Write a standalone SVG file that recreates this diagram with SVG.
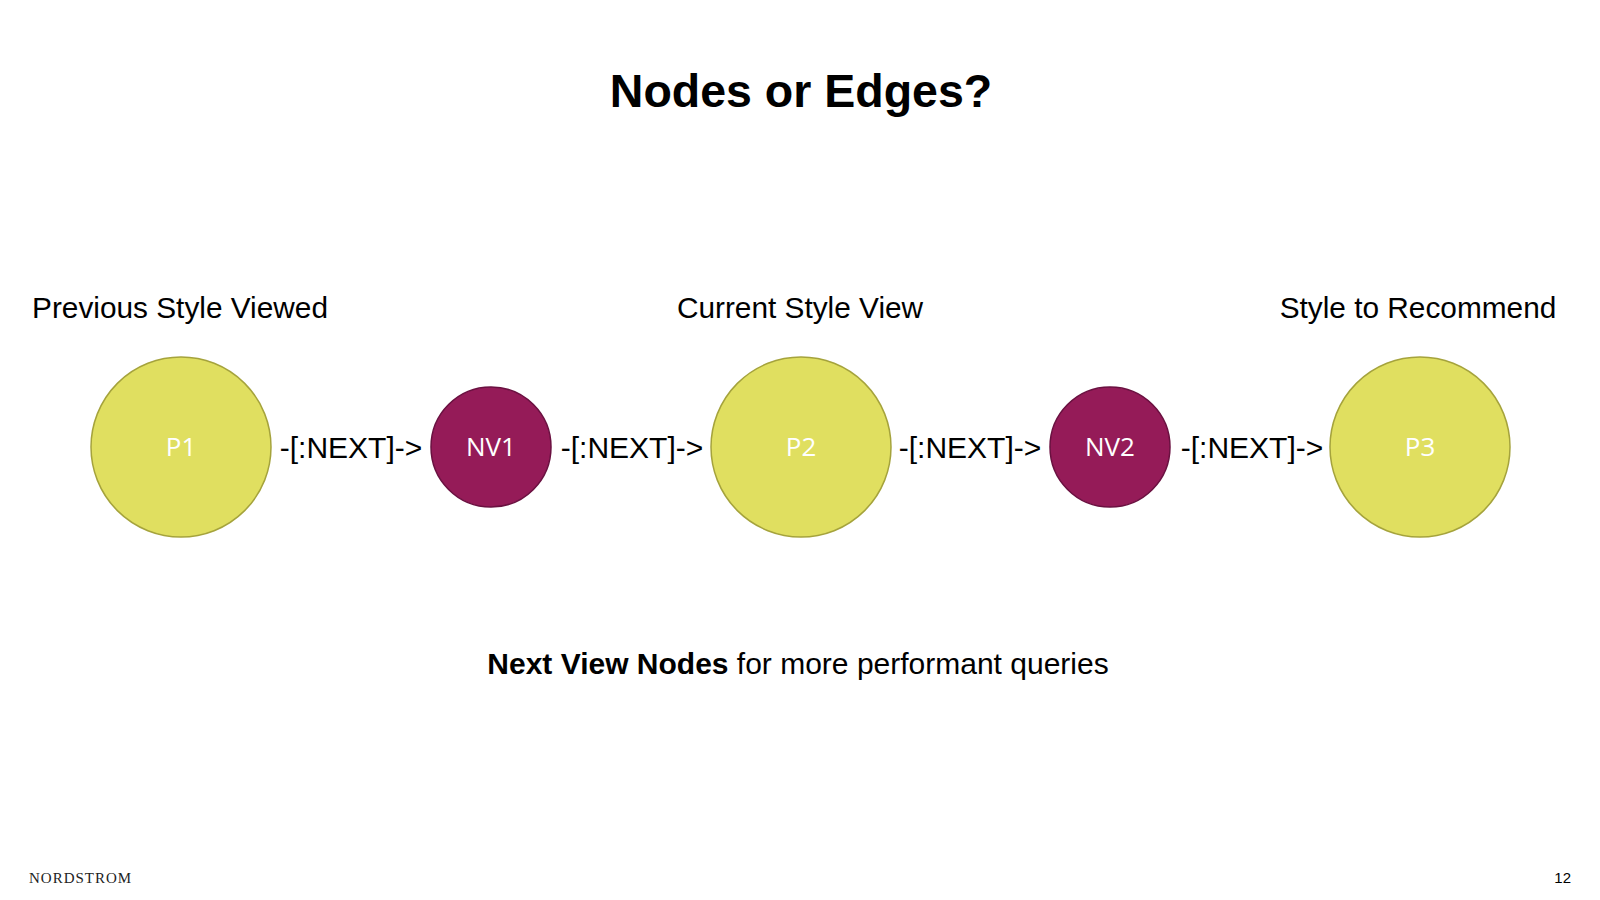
<svg xmlns="http://www.w3.org/2000/svg" width="1600" height="900" viewBox="0 0 1600 900">
  <style>
    .bg { fill: #ffffff; }
    .title { font-family: "Liberation Sans", Arial, sans-serif; font-weight: bold; font-size: 46.5px; fill: #000000; text-anchor: middle; }
    .head { font-family: "Liberation Sans", Arial, sans-serif; font-size: 29.8px; fill: #000000; text-anchor: middle; }
    .edge { font-family: "Liberation Sans", Arial, sans-serif; font-size: 30px; fill: #000000; text-anchor: middle; }
    .prod { fill: #E0DF60; stroke: #A5A33C; stroke-width: 1.5; }
    .nv { fill: #951B58; stroke: #6A1040; stroke-width: 1.5; }
    .nlabel { font-family: "Open Sans", "Noto Sans", sans-serif; font-size: 26px; fill: #ffffff; text-anchor: middle; }
    .foot { font-family: "Liberation Sans", Arial, sans-serif; font-size: 30px; fill: #000000; text-anchor: middle; }
    .brand { font-family: "Liberation Serif", "Times New Roman", serif; font-size: 15px; fill: #222222; letter-spacing: 1px; }
    .page { font-family: "Liberation Sans", Arial, sans-serif; font-size: 15px; fill: #000000; text-anchor: end; }
  </style>
  <rect class="bg" x="0" y="0" width="1600" height="900"/>
  <text class="title" x="801" y="107">Nodes or Edges?</text>

  <text class="head" x="180" y="318">Previous Style Viewed</text>
  <text class="head" x="800" y="318">Current Style View</text>
  <text class="head" x="1418" y="318">Style to Recommend</text>

  <g id="connectors">
    <text class="edge" x="351" y="458">-[:NEXT]-&gt;</text>
    <text class="edge" x="632" y="458">-[:NEXT]-&gt;</text>
    <text class="edge" x="970" y="458">-[:NEXT]-&gt;</text>
    <text class="edge" x="1252" y="458">-[:NEXT]-&gt;</text>
  </g>

  <g id="node-P1">
    <circle class="prod" cx="181" cy="447" r="90"/>
    <text class="nlabel" x="181" y="456">P1</text>
  </g>
  <g id="node-NV1">
    <circle class="nv" cx="491" cy="447" r="60"/>
    <text class="nlabel" x="491" y="456">NV1</text>
  </g>
  <g id="node-P2">
    <circle class="prod" cx="801" cy="447" r="90"/>
    <text class="nlabel" x="801" y="456">P2</text>
  </g>
  <g id="node-NV2">
    <circle class="nv" cx="1110" cy="447" r="60"/>
    <text class="nlabel" x="1110" y="456">NV2</text>
  </g>
  <g id="node-P3">
    <circle class="prod" cx="1420" cy="447" r="90"/>
    <text class="nlabel" x="1420" y="456">P3</text>
  </g>

  <text class="foot" x="798" y="674"><tspan font-weight="bold">Next View Nodes</tspan> for more performant queries</text>

  <text class="brand" x="29" y="883">NORDSTROM</text>
  <text class="page" x="1571" y="883">12</text>
</svg>
